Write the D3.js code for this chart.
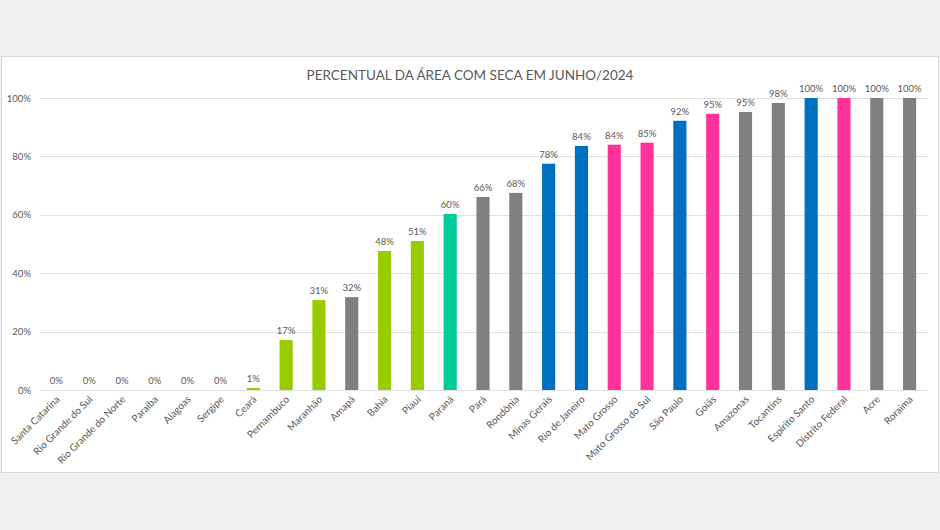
<!DOCTYPE html>
<html><head><meta charset="utf-8">
<script src="https://cdn.jsdelivr.net/npm/d3@7"></script>
<style>body{margin:0;background:#f0f0f0;}svg{display:block;}</style>
</head><body>
<svg id="c" width="940" height="530"></svg>
<script>
const categories = ["Santa Catarina","Rio Grande do Sul","Rio Grande do Norte","Paraíba","Alagoas","Sergipe","Ceará","Pernambuco","Maranhão","Amapá","Bahia","Piauí","Paraná","Pará","Rondônia","Minas Gerais","Rio de Janeiro","Mato Grosso","Mato Grosso do Sul","São Paulo","Goiás","Amazonas","Tocantins","Espírito Santo","Distrito Federal","Acre","Roraima"];
const values = [0,0,0,0,0,0,0.7,17.1,30.8,31.8,47.6,51.0,60.3,66.1,67.5,77.5,83.6,84.0,84.7,92.2,94.6,95.2,98.3,100,100,100,100];
const groups = ["gray","gray","gray","gray","gray","gray","green","green","green","gray","green","green","teal","gray","gray","blue","blue","pink","pink","blue","pink","gray","gray","blue","pink","gray","gray"];
const yTicks = [0,20,40,60,80,100];
const title = "PERCENTUAL DA ÁREA COM SECA EM JUNHO/2024";
const palette = {green:"#99cc00", gray:"#808080", teal:"#00cc99", blue:"#0070c0", pink:"#ff3399"};

const svg = d3.select("#c");
const font = "Lato, 'Open Sans', sans-serif";
svg.append("rect").attr("x",1.5).attr("y",56.5).attr("width",937).attr("height",416)
  .attr("fill","#fff").attr("stroke","#d9d9d9");

const x = d3.scaleBand().domain(categories).range([40,926]).paddingInner(0.6).paddingOuter(0.3);
const y = d3.scaleLinear().domain([0,100]).range([390,98]);

svg.append("text").attr("x",470).attr("y",80).attr("text-anchor","middle")
  .attr("font-family",font).attr("font-size",13.5).attr("fill","#595959").text(title);

const grid = svg.append("g");
grid.selectAll("line").data(yTicks).join("line")
  .attr("x1",40).attr("x2",928).attr("y1",d=>Math.round(y(d))+0.5).attr("y2",d=>Math.round(y(d))+0.5)
  .attr("stroke","#e0e0e0").attr("stroke-width",1);

const yAxis = d3.axisLeft(y).tickValues(yTicks).tickFormat(d=>d+"%").tickSize(0).tickPadding(0);
const ya = svg.append("g").attr("transform","translate(31,0)").call(yAxis);
ya.select(".domain").remove();
ya.selectAll("text").attr("font-family",font).attr("font-size",9.5).attr("fill","#595959");

svg.append("g").selectAll("rect").data(values).join("rect")
  .attr("x",(d,i)=>x(categories[i])).attr("width",x.bandwidth())
  .attr("y",d=>y(d)).attr("height",d=>y(0)-y(d))
  .attr("fill",(d,i)=>palette[groups[i]]);

svg.append("g").selectAll("text").data(values).join("text")
  .attr("x",(d,i)=>x(categories[i])+x.bandwidth()/2).attr("y",d=>y(d)-6)
  .attr("text-anchor","middle").attr("font-family",font).attr("font-size",9.5).attr("fill","#595959")
  .text(d=>Math.round(d)+"%");

const xAxis = d3.axisBottom(x).tickSize(0).tickPadding(0);
const xa = svg.append("g").attr("transform","translate(0,390)").call(xAxis);
xa.select(".domain").remove();
xa.selectAll("text").attr("font-family",font).attr("font-size",10).attr("fill","#595959")
  .attr("text-anchor","end").attr("dy",0).attr("transform","translate(4,10) rotate(-45)");
</script>
</body></html>
